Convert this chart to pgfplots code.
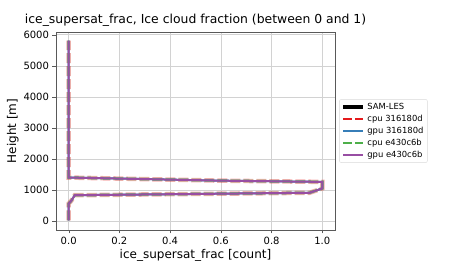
\documentclass[border=0pt]{standalone}
\usepackage{fontspec}
\setmainfont{DejaVu Sans}
\usepackage{pgfplots}
\pgfplotsset{compat=1.18}
\definecolor{cred}{HTML}{E41A1C}
\definecolor{cblue}{HTML}{377EB8}
\definecolor{cgreen}{HTML}{4DAF4A}
\definecolor{cpurple}{HTML}{984EA3}
\pgfplotstableread{
x y
0.000 20
0.000 200
0.000 450
0.000 560
0.010 650
0.024 830
0.300 855
0.600 880
0.950 910
1.000 1050
1.000 1260
0.600 1300
0.300 1350
0.000 1400
0.000 2000
0.000 3000
0.000 4000
0.000 5000
0.000 5810
}\profile
\begin{document}
\begin{tikzpicture}
\useasboundingbox (0pt,0pt) rectangle (450pt,270pt);
\begin{axis}[at={(56pt,40pt)}, anchor=south west, scale only axis,
  width=279pt, height=198pt,
  xmin=-0.05, xmax=1.05, ymin=-290, ymax=6090,
  xtick={0,0.2,0.4,0.6,0.8,1},
  xticklabels={0.0,0.2,0.4,0.6,0.8,1.0},
  ytick={0,1000,2000,3000,4000,5000,6000},
  yticklabels={0,1000,2000,3000,4000,5000,6000},
  grid=major, grid style={gray!35, line width=0.6pt},
  axis line style={gray!70!black},
  tick align=outside, tick pos=left, major tick length=3.5pt,
  tick style={gray!70!black},
  tick label style={font=\fontsize{10}{12}\selectfont},
  title={ice\_supersat\_frac, Ice cloud fraction (between 0 and 1)},
  title style={font=\fontsize{12.4}{14}\selectfont, yshift=-4pt},
  xlabel={ice\_supersat\_frac [count]},
  ylabel={Height [m]},
  label style={font=\fontsize{12}{14}\selectfont},
  xlabel style={yshift=2pt},
  ylabel style={yshift=-2pt},
  legend style={at={(1.015,0.5)}, anchor=west, font=\fontsize{8.4}{10}\selectfont,
    draw=gray!30, rounded corners=2pt, row sep=0pt, inner sep=2pt},
  legend image code/.code={\draw[#1] (0pt,0pt) -- (20pt,0pt);},
  legend cell align=left,
]
\addlegendimage{black, line width=4pt}
\addlegendentry{SAM-LES}
\addlegendimage{cred, line width=2.5pt, dash pattern=on 9pt off 3pt}
\addlegendentry{cpu 316180d}
\addlegendimage{cblue, line width=2pt}
\addlegendentry{gpu 316180d}
\addlegendimage{cgreen, line width=2.5pt, dash pattern=on 9pt off 3pt}
\addlegendentry{cpu e430c6b}
\addlegendimage{cpurple, line width=2pt}
\addlegendentry{gpu e430c6b}
\addplot[forget plot, cred, opacity=0.35, line width=4.5pt, dash pattern=on 10pt off 3pt] table {\profile};
\addplot[forget plot, cblue, line width=2pt] table {\profile};
\addplot[forget plot, cgreen, opacity=0.5, line width=3pt, dash pattern=on 10pt off 3pt] table {\profile};
\addplot[forget plot, cpurple, line width=2pt] table {\profile};
\end{axis}
\end{tikzpicture}
\end{document}
